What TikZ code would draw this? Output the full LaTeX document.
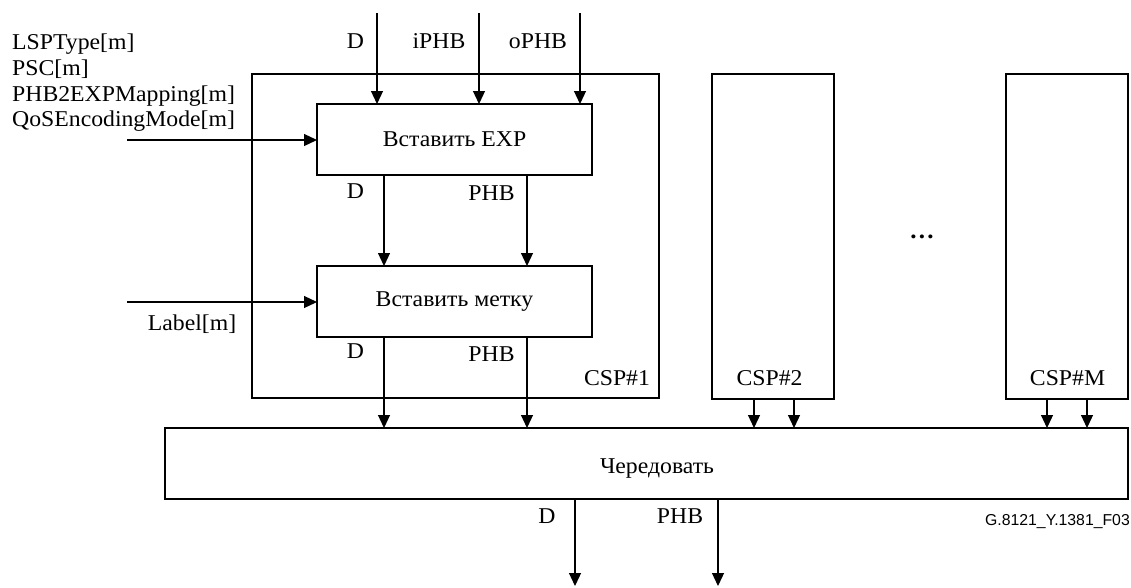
\documentclass[tikz,border=0pt]{standalone}
\usepackage{fontspec}
\setmainfont[FakeStretch=1.05]{Liberation Serif}
\newfontfamily\figsans{Liberation Sans}
\usetikzlibrary{arrows.meta}
\begin{document}
\begin{tikzpicture}[x=1pt,y=-1pt,
  blk/.style={draw, line width=2.8pt, inner sep=0pt, outer sep=0pt},
  frame/.style={draw, line width=1.2pt, inner sep=0pt, outer sep=0pt},
  flow/.style={line width=1.2pt, -{Triangle[width=12pt,length=13pt]}},
  bigfont/.style={font=\fontsize{22.6}{26}\selectfont},
  txt/.style={bigfont, inner sep=0pt, anchor=base},
  txtl/.style={bigfont, inner sep=0pt, anchor=base west},
  code/.style={font=\figsans\fontsize{15.8}{18}\selectfont, inner sep=0pt, anchor=base east}]
\useasboundingbox (0,0) rectangle (1131,587);

% CSP#1 frame with its two processing blocks
\node[frame, minimum width=407pt, minimum height=324pt] (csp1) at (455.5,236) {};
\node[blk, bigfont, minimum width=275pt, minimum height=71pt] (exp) at (454.5,139.5) {Вставить EXP};
\node[blk, bigfont, minimum width=275pt, minimum height=71pt] (lab) at (454.5,301.5) {Вставить метку};

% further CSP instances
\node[blk, minimum width=122pt, minimum height=325pt] (csp2) at (773,236.5) {};
\node[blk, minimum width=122pt, minimum height=325pt] (cspM) at (1067,236.5) {};

% interleaver
\node[blk, minimum width=963pt, minimum height=71pt] (mux) at (646.5,463.5) {};
\node[txt] (muxtext) at (657,473) {Чередовать};

% signal columns
\coordinate (inD) at (377,13);
\coordinate (inI) at (479,13);
\coordinate (inO) at (580,13);
\coordinate (colD) at (384,0);
\coordinate (colP) at (527,0);
\coordinate (c2a) at (754,0);
\coordinate (c2b) at (794,0);
\coordinate (cMa) at (1047,0);
\coordinate (cMb) at (1087,0);
\coordinate (cfg) at (127,140);
\coordinate (lbl) at (127,302);
\coordinate (outD) at (575,586);
\coordinate (outP) at (718,586);

% inputs
\draw[flow] (inD) -- (inD |- exp.north);
\draw[flow] (inI) -- (inI |- exp.north);
\draw[flow] (inO) -- (inO |- exp.north);
\draw[flow] (cfg) -- (cfg -| exp.west);
\draw[flow] (lbl) -- (lbl -| lab.west);

% internal and output flows
\draw[flow] (exp.south -| colD) -- (lab.north -| colD);
\draw[flow] (exp.south -| colP) -- (lab.north -| colP);
\draw[flow] (lab.south -| colD) -- (mux.north -| colD);
\draw[flow] (lab.south -| colP) -- (mux.north -| colP);
\draw[flow] (csp2.south -| c2a) -- (mux.north -| c2a);
\draw[flow] (csp2.south -| c2b) -- (mux.north -| c2b);
\draw[flow] (cspM.south -| cMa) -- (mux.north -| cMa);
\draw[flow] (cspM.south -| cMb) -- (mux.north -| cMb);
\draw[flow] (outD |- mux.south) -- (outD);
\draw[flow] (outP |- mux.south) -- (outP);

% labels
\node[txtl] (p1) at (12,49) {LSPType[m]};
\node[txtl] (p2) at (12,75) {PSC[m]};
\node[txtl] (p3) at (12,101) {PHB2EXPMapping[m]};
\node[txtl] (p4) at (12,126) {QoSEncodingMode[m]};
\node[txt] (tD) at (355.5,48) {D};
\node[txt] (tI) at (439,48) {iPHB};
\node[txt] (tO) at (538,48) {oPHB};
\node[txt] (mD1) at (355.5,198) {D};
\node[txt] (mP1) at (491.5,200) {PHB};
\node[txt] (mD2) at (355.5,358) {D};
\node[txt] (mP2) at (491.5,361) {PHB};
\node[txt] (tL) at (192,330) {Label[m]};
\node[txt] (n1) at (617,385) {CSP\#1};
\node[txt] (n2) at (769.5,385) {CSP\#2};
\node[txt] (nM) at (1067.5,385) {CSP\#M};
\node[txt, font=\fontsize{24}{26}\selectfont\bfseries] (dots) at (922,238) {\dots};
\node[txt] (oD) at (547,523) {D};
\node[txt] (oP) at (680,523) {PHB};
\node[code] (fig) at (1130,525.5) {G.8121\_Y.1381\_F03};
\end{tikzpicture}
\end{document}
